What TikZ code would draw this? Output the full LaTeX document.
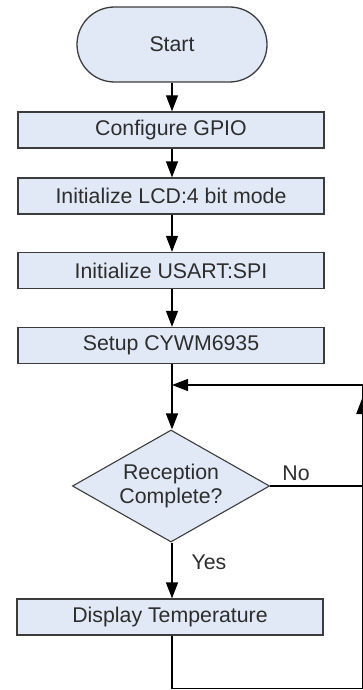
\documentclass[tikz,border=0pt]{standalone}
\usepackage{fontspec}
\setmainfont{Liberation Sans}
\usetikzlibrary{arrows.meta,shapes.geometric}
\definecolor{boxfill}{RGB}{226,233,246}
\definecolor{boxline}{RGB}{60,60,60}
\definecolor{txt}{RGB}{45,45,45}
\begin{document}
\begin{tikzpicture}[x=1pt,y=1pt,
  every node/.style={font=\fontsize{21.3}{26}\selectfont, text=txt},
  procbox/.style={draw=boxline, fill=boxfill, line width=1.3pt, minimum width=306pt, minimum height=36pt, inner sep=0pt},
  termbox/.style={draw=boxline, fill=boxfill, line width=1.3pt, minimum width=190pt, minimum height=75pt, rounded corners=37.5pt, inner sep=0pt},
  decbox/.style={diamond, draw=boxline, fill=boxfill, line width=1.1pt, minimum width=190pt, minimum height=108pt, inner sep=0pt, aspect=1.76, align=center},
  arr/.style={draw=black, line width=1.3pt, -{Triangle[length=16pt,width=12pt]}},
  ln/.style={draw=black, line width=1.3pt}]
\useasboundingbox (0,0) rectangle (363,-690);
\node[termbox] (start) at (172,-44.5) {Start};
\node[procbox] (cfg) at (171,-130) {Configure GPIO};
\node[procbox] (lcd) at (171,-196) {Initialize LCD:4 bit mode};
\node[procbox] (usart) at (171,-270.5) {Initialize USART:SPI};
\node[procbox] (setup) at (171,-345.5) {Setup CYWM6935};
\node[decbox, minimum width=0pt, minimum height=0pt, text width=120pt] (dec) at (171,-486) {Reception\\[-2pt]Complete?};
\node[procbox] (disp) at (170,-617) {Display Temperature};
\node (no) at (296,-473) {No};
\node (yes) at (209,-562) {Yes};
\coordinate (junc) at (172,-385);
\coordinate (rtop) at (362.3,-385);
\coordinate (rmid) at (362.3,-486);
\coordinate (rbot) at (362.3,-688.8);
\coordinate (lbot) at (172,-688.8);
\coordinate (uptip) at (362.3,-398);
\draw[arr] (start.south) -- (start.south |- cfg.north);
\draw[arr] (cfg.south -| start.south) -- (start.south |- lcd.north);
\draw[arr] (lcd.south -| start.south) -- (start.south |- usart.north);
\draw[arr] (usart.south -| start.south) -- (start.south |- setup.north);
\draw[arr] (setup.south -| junc) -- (junc |- dec.north);
\draw[arr] (dec.east) -- (rmid) -- (rtop) -- (junc);
\draw[arr] (dec.south -| junc) -- (junc |- disp.north);
\draw[arr] (disp.south -| junc) -- (lbot) -- (rbot) -- (uptip);
\end{tikzpicture}
\end{document}
